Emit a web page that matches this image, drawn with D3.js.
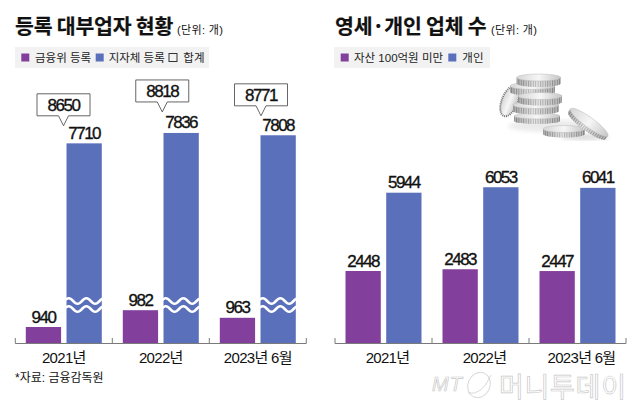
<!DOCTYPE html>
<html>
<head>
<meta charset="utf-8">
<style>
    body { margin: 0; background: #fff; }
    svg { display: block; }
    text { font-family: "Liberation Sans", "Noto Sans CJK KR", sans-serif; fill: #111; }
    .title { font-family: "Noto Sans CJK KR", sans-serif; font-size: 20.5px; font-weight: 700; letter-spacing: -0.2px; stroke: #111; stroke-width: 0.2px; }
    .unit { font-size: 11px; }
    .legend { font-size: 11.5px; fill: #222; }
    .value { font-size: 17px; letter-spacing: -1.5px; text-anchor: middle; stroke: #111; stroke-width: 0.35px; }
    .cat { font-size: 15px; letter-spacing: -0.7px; }
    .domain { display: none; }
</style>
</head>
<body>
<svg id="chart" width="640" height="411"></svg>
<script src="https://d3js.org/d3.v7.min.js"></script>
<script>
// 데이터
var categories = ["2021년", "2022년", "2023년 6월"];
var fscValues = [940, 982, 963];
var localValues = [7710, 7836, 7808];
var totalValues = [8650, 8818, 8771];
var smallValues = [2448, 2483, 2447];
var individualValues = [5944, 6053, 6041];

var purple = "#833f9c", blue = "#5a70bb";
var baseY = 343;
var svg = d3.select("#chart");

var defs = svg.append("defs");
var ridge = defs.append("pattern").attr("id", "ridge").attr("patternUnits", "userSpaceOnUse")
    .attr("width", 2.4).attr("height", 10);
ridge.append("rect").attr("width", 2.4).attr("height", 10).attr("fill", "#dedede");
ridge.append("rect").attr("width", 1).attr("height", 10).attr("fill", "#909090");
var shade = defs.append("linearGradient").attr("id", "shade");
shade.append("stop").attr("offset", 0).attr("stop-color", "#555").attr("stop-opacity", 0.35);
shade.append("stop").attr("offset", 0.45).attr("stop-color", "#fff").attr("stop-opacity", 0.35);
shade.append("stop").attr("offset", 1).attr("stop-color", "#555").attr("stop-opacity", 0.3);
var face = defs.append("linearGradient").attr("id", "face");
face.append("stop").attr("offset", 0).attr("stop-color", "#d6d6d6");
face.append("stop").attr("offset", 0.5).attr("stop-color", "#f6f6f6");
face.append("stop").attr("offset", 1).attr("stop-color", "#c6c6c6");
var blur = defs.append("filter").attr("id", "soft");
blur.append("feGaussianBlur").attr("stdDeviation", 2);

// 축 + 막대 공통
function drawPanel(left, labelDx, purpleVals, blueVals, yPurple, yBlue) {
    var x0 = d3.scaleBand().domain(categories).range([left, left + 291]);
    var x1 = d3.scaleBand().domain([0, 1]).range([0, x0.bandwidth()])
        .paddingInner(0.133).paddingOuter(0.258);
    var g = svg.append("g");

    g.append("g").attr("class", "cat")
        .attr("transform", "translate(" + labelDx + "," + baseY + ")")
        .call(d3.axisBottom(x0).tickSize(0).tickPadding(9))
        .call(function(a) {
            a.selectAll("text").attr("font-family", null).attr("font-size", null).attr("fill", null);
            a.attr("font-size", null).attr("font-family", null);
        });

    g.append("line").attr("x1", left).attr("x2", left + 291)
        .attr("y1", baseY + 0.5).attr("y2", baseY + 0.5)
        .attr("stroke", "#7a7a7a").attr("stroke-width", 1);
    g.selectAll(".sep").data(d3.range(categories.length + 1)).enter().append("line")
        .attr("x1", function(i) { return left + i * x0.step(); })
        .attr("x2", function(i) { return left + i * x0.step(); })
        .attr("y1", baseY - 5).attr("y2", baseY + 0.5)
        .attr("stroke", "#7a7a7a");

    function bars(vals, y, idx, color) {
        g.selectAll(".b" + idx).data(vals).enter().append("rect")
            .attr("x", function(d, i) { return x0(categories[i]) + x1(idx); })
            .attr("width", x1.bandwidth())
            .attr("y", function(d) { return y(d); })
            .attr("height", function(d) { return baseY - y(d); })
            .attr("fill", color);
        g.selectAll(".v" + idx).data(vals).enter().append("text")
            .attr("class", "value")
            .attr("x", function(d, i) { return x0(categories[i]) + x1(idx) + x1.bandwidth() / 2; })
            .attr("y", function(d) { return y(d) - 4.5; })
            .text(function(d) { return d; });
    }
    bars(purpleVals, yPurple, 0, purple);
    bars(blueVals, yBlue, 1, blue);
    return { g: g, x0: x0, x1: x1 };
}

function title(x, txt, unitX) {
    svg.append("text").attr("class", "title").attr("x", x).attr("y", 34).text(txt);
    svg.append("text").attr("class", "unit").attr("x", unitX).attr("y", 34).attr("textLength", 46).text("(단위: 개)");
}

function legend(x, w, items) {
    svg.append("rect").attr("x", x).attr("y", 47).attr("width", w).attr("height", 21).attr("fill", "#f2f2f2");
    items.forEach(function(it) {
        svg.append("rect").attr("x", it.sx).attr("y", 53.5).attr("width", 8).attr("height", 8)
            .attr("fill", it.color).attr("stroke", it.color === "none" ? "#333" : "none");
        svg.append("text").attr("class", "legend").attr("x", it.tx).attr("y", 62).text(it.label);
    });
}

// 왼쪽: 등록 대부업자 현황
title(15, "등록 대부업자 현황", 177);
legend(15, 194, [
    { sx: 21.3, tx: 35, color: purple, label: "금융위 등록" },
    { sx: 95.7, tx: 108.7, color: blue, label: "지자체 등록" },
    { sx: 169, tx: 183.3, color: "none", label: "합계" }
]);
var yFsc = d3.scaleLinear().domain([900, 1000]).range([baseY, baseY - 40]);
var yLocal = d3.scaleLinear().domain([5290, 9290]).range([baseY, baseY - 330]);
var left = drawPanel(15.3, 0, fscValues, localValues, yFsc, yLocal);

// 물결 (축 생략 표시)
var waveLine = d3.line().curve(d3.curveBasis);
categories.forEach(function(c) {
    var bx = left.x0(c) + left.x1(1), bw = left.x1.bandwidth();
    [301, 309].forEach(function(wy) {
        var pts = d3.range(-1, 10).map(function(k) {
            return [bx + k * bw / 8, wy + ((k + 4) % 4 >= 2 ? 3 : -3)];
        });
        left.g.append("path").attr("d", waveLine(pts))
            .attr("fill", "none").attr("stroke", "#fff").attr("stroke-width", 2.6);
    });
});

// 합계 말풍선
var xTip = d3.scalePoint().domain(categories).range([63.5, 261]);
totalValues.forEach(function(v, i) {
    var tx = xTip(categories[i]), ty = yLocal(v) + 60;
    var top = ty - 32, bot = ty - 10, w = 26.5;
    left.g.append("path")
        .attr("d", "M" + (tx - w) + "," + top + "H" + (tx + w) + "V" + bot + "H" + (tx + 5) +
            "L" + tx + "," + ty + "L" + (tx - 5) + "," + bot + "H" + (tx - w) + "Z")
        .attr("fill", "#fff").attr("stroke", "#555").attr("stroke-width", 0.9);
    left.g.append("text").attr("class", "value").attr("x", tx).attr("y", top + 17).text(v);
});

svg.append("text").attr("x", 15).attr("y", 381.5).attr("font-size", "12px").attr("fill", "#222").text("*자료: 금융감독원");

// 오른쪽: 영세·개인 업체 수
title(335, "영세·개인 업체 수", 491);
legend(334, 156, [
    { sx: 340.7, tx: 354, color: purple, label: "자산 100억원 미만" },
    { sx: 448.3, tx: 462.3, color: blue, label: "개인" }
]);
var ySmall = d3.scaleLinear().domain([1008, 3008]).range([baseY, baseY - 100]);
var yIndividual = d3.scaleLinear().domain([2938, 6938]).range([baseY, baseY - 200]);
drawPanel(335, 4, smallValues, individualValues, ySmall, yIndividual);

// 동전 그림
function coin(parent, cx, cy, rx, ry, h) {
    var g = parent.append("g");
    var d = "M" + (cx - rx) + "," + cy + "V" + (cy + h) + "A" + rx + "," + ry + " 0 0 0 " + (cx + rx) + "," + (cy + h) +
        "V" + cy + "Z";
    g.append("path").attr("d", d).attr("fill", "url(#ridge)");
    g.append("path").attr("d", d).attr("fill", "url(#shade)");
    g.append("ellipse").attr("cx", cx).attr("cy", cy).attr("rx", rx).attr("ry", ry)
        .attr("fill", "url(#face)").attr("stroke", "#bbb").attr("stroke-width", 0.5);
    return g;
}
var coins = svg.append("g");
coins.append("ellipse").attr("cx", 550).attr("cy", 126).attr("rx", 42).attr("ry", 6)
    .attr("fill", "#ddd").attr("opacity", 0.6).attr("filter", "url(#soft)");
coins.append("ellipse").attr("cx", 585).attr("cy", 137).attr("rx", 24).attr("ry", 3)
    .attr("fill", "#ccc").attr("opacity", 0.7).attr("filter", "url(#soft)");
// 기대어 선 동전
coin(coins.append("g").attr("transform", "rotate(22 507 100)"), 510, 100, 8, 16, 0).select("ellipse")
    .attr("stroke", "#777").attr("stroke-width", 2).attr("stroke-dasharray", "1 1");
coin(coins, 532.5, 86, 22.5, 3.5, 6);
coin(coins, 537, 116, 23, 3, 5);
coin(coins, 536, 105, 23, 3.5, 6);
coin(coins, 540, 96, 22, 3.5, 6);
coin(coins, 538.7, 77.5, 22, 3.5, 6);
coin(coins, 564, 129, 21, 3.5, 5);
coin(coins.append("g").attr("transform", "rotate(36 588 124)"), 588, 122, 23, 5, 4);

// 워터마크
var wm = svg.append("g").attr("fill", "#fff").attr("stroke", "#c9c9c9").attr("stroke-width", 0.7);
wm.append("text").attr("x", 432).attr("y", 391).attr("font-size", "20px").attr("font-style", "italic")
    .attr("textLength", 30).style("fill", "#fff").text("MT");
wm.append("ellipse").attr("cx", 479).attr("cy", 385).attr("rx", 11).attr("ry", 13)
    .attr("transform", "rotate(25 479 385)").attr("fill", "none");
wm.append("path").attr("d", "M468,393Q482,396 491,375").attr("fill", "none");
wm.append("text").attr("x", 499).attr("y", 397).attr("font-size", "27px")
    .attr("textLength", 127).style("font-family", "'Noto Sans CJK KR'").style("fill", "#fff").text("머니투데이");
</script>
</body>
</html>
